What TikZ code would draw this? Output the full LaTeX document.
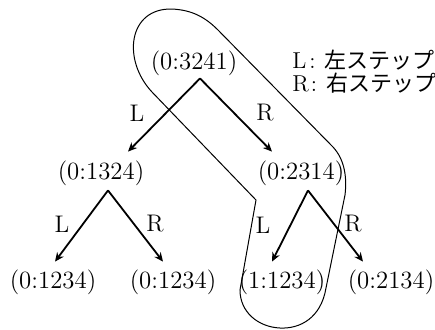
\documentclass[tikz,border=0pt]{standalone}
\usepackage{fontspec}
\newfontfamily\jp{Noto Sans CJK JP}
\usetikzlibrary{arrows.meta}
\begin{document}
\begin{tikzpicture}[x=0.5pt,y=-0.5pt,
  state/.style={inner sep=0pt, font=\fontsize{12.4}{14}\selectfont},
  lab/.style={inner sep=0pt, font=\fontsize{12}{14}\selectfont},
  legend/.style={inner sep=0pt, anchor=west, font=\fontsize{11.5}{14}\selectfont},
  arr/.style={line width=0.9pt, -{Stealth[length=4.5pt,width=4pt]}},
  loopline/.style={line width=0.5pt}]
\useasboundingbox (0,0) rectangle (435,329);
% states
\node[state] (n0) at (194,63) {(0:3241)};
\node[state] (n1) at (101,173) {(0:1324)};
\node[state] (n2) at (301,173) {(0:2314)};
\node[state] (n3) at (53,282) {(0:1234)};
\node[state] (n4) at (173,282) {(0:1234)};
\node[state] (n5) at (282,282) {(1:1234)};
\node[state] (n6) at (391,282) {(0:2134)};
% arrows
\draw[arr] ([xshift=3pt,yshift=-1.3pt]n0.south) -- ([xshift=13.5pt,yshift=4.3pt]n1.north);
\draw[arr] ([xshift=3pt,yshift=-1.3pt]n0.south) -- ([xshift=-14.5pt,yshift=4.3pt]n2.north);
\draw[arr] ([xshift=3.5pt,yshift=-2.3pt]n1.south) -- ([xshift=1pt,yshift=3.8pt]n3.north);
\draw[arr] ([xshift=3.5pt,yshift=-2.3pt]n1.south) -- ([xshift=-5pt,yshift=3.8pt]n4.north);
\draw[arr] ([xshift=3.5pt,yshift=-2.3pt]n2.south) -- ([xshift=-5pt,yshift=3.8pt]n5.north);
\draw[arr] ([xshift=3.5pt,yshift=-2.3pt]n2.south) -- ([xshift=-14pt,yshift=3.8pt]n6.north);
% arrow labels
\node[lab] (la) at (137,113) {L};
\node[lab] (ra) at (265,113) {R};
\node[lab] (lb) at (62,224) {L};
\node[lab] (rb) at (155,224) {R};
\node[lab] (lc) at (263,225) {L};
\node[lab] (rc) at (353,224) {R};
% legend
\node[legend] (k1) at (292,60) {L\hspace{1.5pt}:\hspace{4.5pt}{\jp\fontsize{11}{12}\selectfont 左ステップ}};
\node[legend] (k2) at (292,83) {R\hspace{1pt}:\hspace{4.5pt}{\jp\fontsize{11}{12}\selectfont 右ステップ}};
% loop
\draw[loopline] (256,200) -- (152,92)
  .. controls (122,60) and (128,8) .. (172,9)
  .. controls (192,10) and (205,17) .. (218,30)
  -- (333,147)
  .. controls (345,160) and (347,178) .. (345,195)
  -- (326,288)
  .. controls (321,318) and (300,329) .. (280,328)
  .. controls (258,327) and (240,312) .. (240,290)
  -- cycle;
\end{tikzpicture}
\end{document}
